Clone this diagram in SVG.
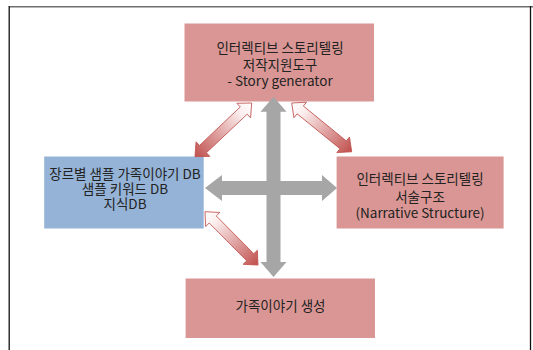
<svg xmlns="http://www.w3.org/2000/svg" width="533" height="350" viewBox="0 0 533 350">
<defs>
<style>
.pink{fill:#D99694;}
.blue{fill:#95B3D7;}
.t{font-family:"Noto Sans CJK KR","Noto Sans",sans-serif;font-size:13.5px;fill:#222;text-anchor:middle;}
.gray{fill:#A6A6A6;}
.red{fill:url(#rg);stroke:#C0504D;stroke-width:0.8;stroke-linejoin:miter;}
</style>
<linearGradient id="rg" x1="0" y1="0" x2="1" y2="0">
<stop offset="0" stop-color="#FFFFFF"/>
<stop offset="0.2" stop-color="#FBEDED"/>
<stop offset="1" stop-color="#C0504D"/>
</linearGradient>
</defs>
<rect width="533" height="350" fill="#FFFFFF"/>
<g id="frame">
<line x1="9" y1="6.8" x2="533" y2="6.8" stroke="#6E6E6E" stroke-width="1.5"/>
<line x1="9.2" y1="6" x2="9.2" y2="350" stroke="#111" stroke-width="1.3"/>
<line x1="530.5" y1="6" x2="530.5" y2="350" stroke="#111" stroke-width="1.3"/>
</g>
<g id="node-top">
<rect class="pink" x="184.5" y="23.5" width="189.5" height="78"/>
<text class="t" x="280" y="53">인터렉티브 스토리텔링</text>
<text class="t" x="280" y="70">저작지원도구</text>
<text class="t" x="280" y="86">- Story generator</text>
</g>
<g id="node-left">
<rect class="blue" x="44.2" y="156.5" width="159.5" height="72"/>
<text class="t" x="125" y="179">장르별 샘플 가족이야기 DB</text>
<text class="t" x="125" y="194">샘플 키워드 DB</text>
<text class="t" x="125" y="209">지식DB</text>
</g>
<g id="node-right">
<rect class="pink" x="336.6" y="156.5" width="167" height="72"/>
<text class="t" x="420" y="184">인터렉티브 스토리텔링</text>
<text class="t" x="420" y="202">서술구조</text>
<text class="t" x="420" y="218">(Narrative Structure)</text>
</g>
<g id="node-bottom">
<rect class="pink" x="185.6" y="278.5" width="189.4" height="59.5"/>
<text class="t" x="280.5" y="311">가족이야기 생성</text>
</g>
<g id="connectors">
<polygon class="gray" points="273.5,96.7 286.5,111.7 280.5,111.7 280.5,262 286.5,262 273.5,277 260.5,262 266.5,262 266.5,111.7 260.5,111.7"/>
<polygon class="gray" points="205,188 222,175 222,181 322,181 322,175 337,188 322,201 322,195 222,195 222,201"/>
<path class="red" transform="translate(251.7,103) rotate(136.6)" d="M0,0 L11,-10 L11,-5 L67.1,-5 L67.1,-10 L78.1,0 L67.1,10 L67.1,5 L11,5 L11,10 Z"/>
<path class="red" transform="translate(291.7,103) rotate(39.1)" d="M0,0 L11,-10 L11,-5 L66.3,-5 L66.3,-10 L77.3,0 L66.3,10 L66.3,5 L11,5 L11,10 Z"/>
<path class="red" transform="translate(205,211.7) rotate(45.2)" d="M0,0 L11,-10 L11,-5 L64.2,-5 L64.2,-10 L75.2,0 L64.2,10 L64.2,5 L11,5 L11,10 Z"/>
</g>
</svg>
